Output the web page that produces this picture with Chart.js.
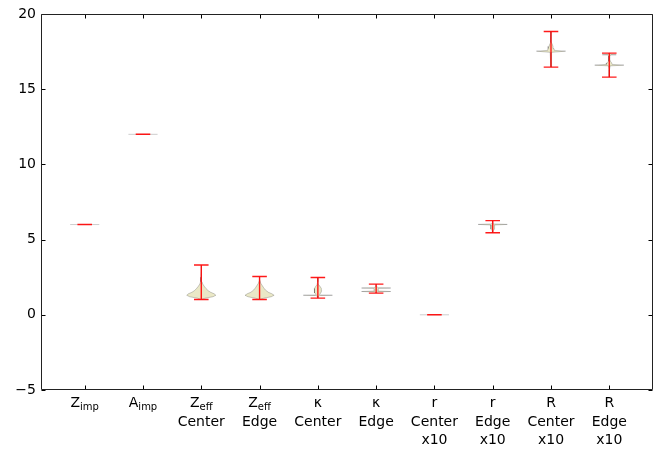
<!DOCTYPE html>
<html><head><meta charset="utf-8">
<script src="https://cdn.jsdelivr.net/npm/chart.js@4/dist/chart.umd.min.js"></script>
<style>html,body{margin:0;padding:0;background:#fff}</style>
</head><body>
<canvas id="c" width="659" height="450"></canvas>
<script>
// ---- data ----
const categories = ['Z_imp','A_imp','Z_eff Center','Z_eff Edge','κ Center','κ Edge','r Center x10','r Edge x10','R Center x10','R Edge x10'];
const labelMain  = ['Z','A','Z','Z','κ','κ','r','r','R','R'];
const labelSub   = ['imp','imp','eff','eff','','','','','',''];
const labelLine2 = ['','','Center','Edge','Center','Edge','Center','Edge','Center','Edge'];
const labelLine3 = ['','','','','','','x10','x10','x10','x10'];
const minVals = [6, 12, 1.02, 1.02, 1.11, 1.44, 0, 5.46, 16.47, 15.80];
const maxVals = [6, 12, 3.31, 2.55, 2.48, 2.04, 0, 6.26, 18.84, 17.40];
// violin body profiles: y values and half-widths (density, scaled)
const bodyY = [
  [6],
  [12],
  [1.02,1.10,1.20,1.30,1.40,1.50,1.60,1.75,1.90,2.05,2.20,2.50,2.90,3.31],
  [1.02,1.10,1.20,1.30,1.40,1.50,1.65,1.80,1.95,2.10,2.30,2.55],
  [1.11,1.25,1.28,1.30,1.32,1.36,1.45,1.60,1.75,1.90,2.00,2.20,2.48],
  [1.44,1.52,1.55,1.58,1.65,1.72,1.76,1.78,1.80,1.90,2.04],
  [0],
  [5.46,5.60,5.70,5.85,5.97,6.01,6.04,6.15,6.26],
  [16.47,17.20,17.45,17.53,17.58,17.70,17.85,18.00,18.10,18.40,18.84],
  [15.80,16.30,16.55,16.60,16.65,16.75,16.86,17.00,17.20,17.27,17.29,17.31,17.40]
];
const bodyW = [
  [0.25],
  [0.25],
  [0.01,0.06,0.20,0.25,0.22,0.16,0.12,0.08,0.05,0.025,0.012,0.006,0.003,0.001],
  [0.01,0.07,0.20,0.25,0.21,0.15,0.10,0.07,0.045,0.02,0.006,0.001],
  [0.005,0.01,0.04,0.25,0.04,0.03,0.05,0.065,0.06,0.035,0.015,0.004,0.001],
  [0.003,0.02,0.25,0.03,0.04,0.03,0.05,0.25,0.03,0.01,0.002],
  [0.25],
  [0.003,0.01,0.03,0.035,0.03,0.25,0.02,0.005,0.001],
  [0.001,0.004,0.015,0.25,0.06,0.05,0.035,0.02,0.008,0.003,0.001],
  [0.001,0.004,0.015,0.25,0.05,0.04,0.02,0.008,0.01,0.03,0.12,0.03,0.003]
];
const yTicks = [-5, 0, 5, 10, 15, 20];

// ---- build datasets ----
const FONT = "'DejaVu Sans'";
const datasets = [];
categories.forEach((c, i) => {
  const p = i + 1;
  const ys = bodyY[i], ws = bodyW[i];
  const pts = [];
  for (let k = 0; k < ys.length; k++) pts.push({x: p + ws[k], y: ys[k]});
  for (let k = ys.length - 1; k >= 0; k--) pts.push({x: p - ws[k], y: ys[k]});
  datasets.push({
    label: c + ' body', data: pts, showLine: true, fill: 'shape',
    backgroundColor: 'rgba(185,180,70,0.3)', borderColor: 'rgba(0,0,0,0.2)',
    borderWidth: 1, pointRadius: 0, tension: 0, order: 2
  });
  const cap = 0.125;
  datasets.push({
    label: c + ' range',
    data: [{x: p - cap, y: minVals[i]}, {x: p + cap, y: minVals[i]}, {x: p, y: minVals[i]},
           {x: p, y: maxVals[i]}, {x: p - cap, y: maxVals[i]}, {x: p + cap, y: maxVals[i]}],
    showLine: true, fill: false, borderColor: 'rgba(255,0,0,0.9)', borderWidth: 1.4,
    pointRadius: 0, tension: 0, order: 1
  });
});

const framePlugin = {
  id: 'frame',
  afterDraw(chart) {
    const {ctx, chartArea: a, scales} = chart;
    ctx.save();
    ctx.strokeStyle = '#000';
    ctx.lineWidth = 1;
    const L = Math.round(a.left) + 0.5, R = Math.round(a.right) - 0.5;
    const T = Math.round(a.top) + 0.5, B = Math.round(a.bottom) - 0.5;
    // ticks (inward)
    ctx.beginPath();
    yTicks.forEach(v => {
      const y = Math.round(scales.y.getPixelForValue(v)) + 0.5;
      ctx.moveTo(L, y); ctx.lineTo(L + 4, y);
      ctx.moveTo(R, y); ctx.lineTo(R - 4, y);
    });
    categories.forEach((c, i) => {
      const x = Math.round(scales.x.getPixelForValue(i + 1)) + 0.5;
      ctx.moveTo(x, B); ctx.lineTo(x, B - 4);
      ctx.moveTo(x, T); ctx.lineTo(x, T + 4);
    });
    ctx.stroke();
    ctx.strokeStyle = '#222';
    ctx.beginPath();
    ctx.moveTo(L, T); ctx.lineTo(R, T); ctx.lineTo(R, B); ctx.lineTo(L, B); ctx.closePath();
    ctx.stroke();
    // x labels
    ctx.fillStyle = '#000';
    ctx.textBaseline = 'alphabetic';
    categories.forEach((c, i) => {
      const x = scales.x.getPixelForValue(i + 1);
      ctx.font = '14px ' + FONT;
      const wm = ctx.measureText(labelMain[i]).width;
      ctx.font = '10px ' + FONT;
      const ws = labelSub[i] ? ctx.measureText(labelSub[i]).width : 0;
      const x0 = x - (wm + ws) / 2;
      ctx.font = '14px ' + FONT;
      ctx.textAlign = 'left';
      ctx.fillText(labelMain[i], x0, 407);
      if (labelSub[i]) {
        ctx.font = '10px ' + FONT;
        ctx.fillText(labelSub[i], x0 + wm, 410);
      }
      ctx.font = '14px ' + FONT;
      ctx.textAlign = 'center';
      if (labelLine2[i]) ctx.fillText(labelLine2[i], x, 425.5);
      if (labelLine3[i]) ctx.fillText(labelLine3[i], x, 444);
    });
    ctx.restore();
  }
};

new Chart(document.getElementById('c'), {
  type: 'scatter',
  data: {datasets},
  options: {
    responsive: false, animation: false, devicePixelRatio: 1,
    layout: {padding: {left: 0, right: 6, top: 14, bottom: 0}},
    plugins: {legend: {display: false}, tooltip: {enabled: false}},
    scales: {
      x: {
        type: 'linear', min: 0.25, max: 10.75,
        grid: {display: false}, border: {display: false},
        ticks: {display: false},
        afterFit(s) { s.height = 60; }
      },
      y: {
        type: 'linear', min: -5, max: 20,
        grid: {display: false, drawTicks: false}, border: {display: false},
        afterBuildTicks(s) { s.ticks = yTicks.map(v => ({value: v})); },
        afterFit(s) { s.width = 41; },
        ticks: {
          padding: 5, color: '#000', font: {family: 'DejaVu Sans', size: 14},
          callback: v => (v < 0 ? '\u2212' + Math.abs(v) : String(v))
        }
      }
    }
  },
  plugins: [framePlugin]
});
</script>
</body></html>
